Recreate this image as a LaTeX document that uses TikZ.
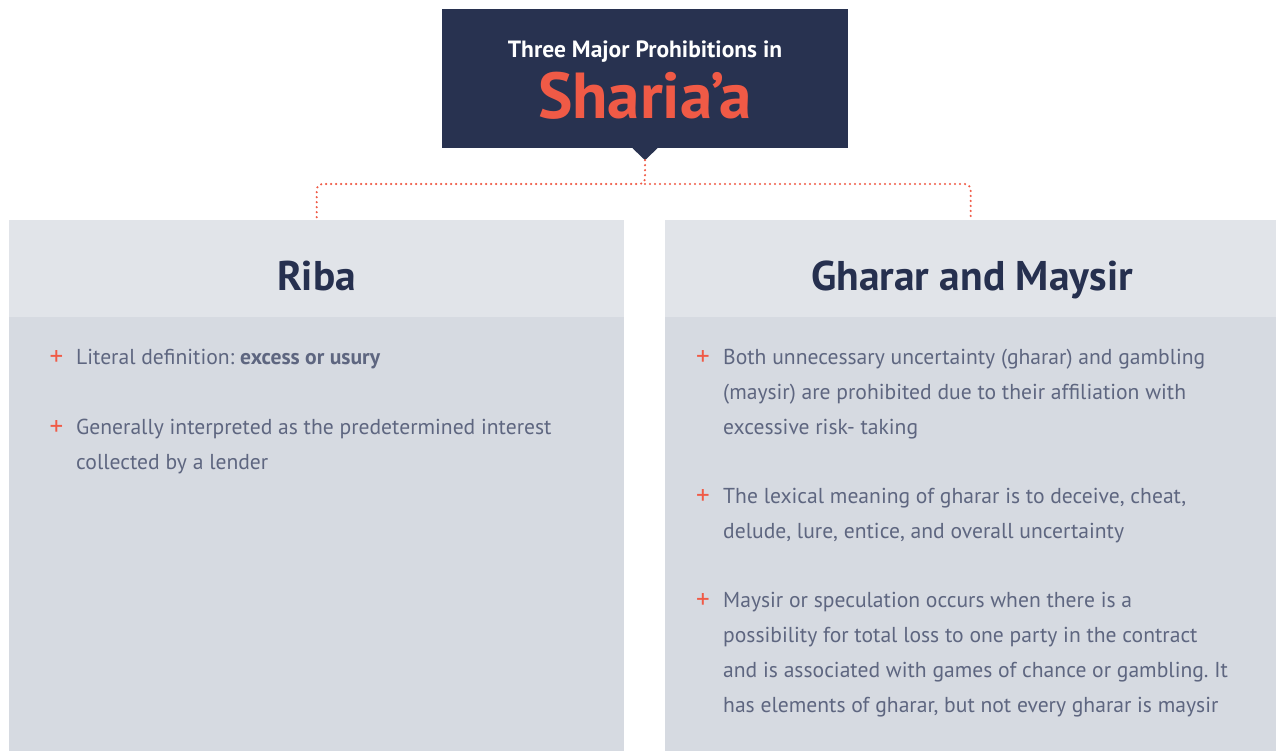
\documentclass[tikz,border=0pt]{standalone}
\usepackage{fontspec}
\setmainfont{PT Sans}
\frenchspacing
\definecolor{navy}{HTML}{283250}
\definecolor{accent}{HTML}{F05A46}
\definecolor{headbg}{HTML}{E1E4E9}
\definecolor{bodybg}{HTML}{D6DAE1}
\definecolor{bodytxt}{HTML}{5E6680}
\definecolor{headtxt}{HTML}{26304F}
\tikzset{
  titlebox/.style={fill=navy, draw=none, minimum width=406pt, minimum height=139pt, inner sep=0pt},
  headbox/.style={fill=headbg, draw=none, anchor=north west, minimum height=97pt, inner sep=0pt},
  bodybox/.style={fill=bodybg, draw=none, anchor=north west, minimum height=434pt, inner sep=0pt},
  headlabel/.style={anchor=base, inner sep=0pt, text=headtxt, font=\bfseries\fontsize{41.5}{41.5}\selectfont},
  plussign/.style={anchor=base, inner sep=0pt, text=accent, font=\fontsize{27}{35}\selectfont},
  bullettext/.style={anchor=base west, inner sep=0pt, text=bodytxt, font=\fontsize{21.6}{35}\selectfont},
  dotline/.style={draw=accent, line width=2.4pt, line cap=round, dash pattern=on 0pt off 5pt, rounded corners=6pt}
}
\begin{document}
\begin{tikzpicture}[x=1pt,y=-1pt]
\useasboundingbox (0,0) rectangle (1276,751);
\fill[white] (0,0) rectangle (1276,751);

% title
\node[titlebox] (title) at (645,78.5) {};
\node[anchor=base, inner sep=0pt, text=white, font=\bfseries\fontsize{23.5}{23.5}\selectfont] (t1) at (645,58) {Three Major Prohibitions in};
\node[anchor=base, inner sep=0pt, text=accent, font=\bfseries\fontsize{65}{65}\selectfont] (t2) at (645,119) {Sharia’a};
\coordinate (tip) at ([yshift=-12pt]title.south);
\fill[navy] ([xshift=-12.5pt]title.south) -- ([xshift=12.5pt]title.south) -- (tip) -- cycle;

% panels
\node[headbox, minimum width=615pt] (lhead) at (9,220) {};
\node[bodybox, minimum width=615pt] (lbody) at (9,317) {};
\node[headbox, minimum width=611pt] (rhead) at (665,220) {};
\node[bodybox, minimum width=611pt] (rbody) at (665,317) {};

\node[headlabel] (lhl) at (316.5,290) {Riba};
\node[headlabel] (rhl) at (972,290) {Gharar and Maysir};

% connector
\coordinate (hub) at (645,184);
\path[dotline] (tip) -- (hub) -| (lhead.north);
\path[dotline] (hub) -| (rhead.north);

% left bullets
\node[plussign] (lp1) at (56.5,365) {+};
\node[bullettext] (lb1) at (76,364) {\parbox[t]{540pt}{\raggedright Literal definition: \textbf{excess or usury}}};
\node[plussign] (lp2) at (56.5,435) {+};
\node[bullettext] (lb2) at (76,434) {\parbox[t]{540pt}{\raggedright Generally interpreted as the predetermined interest\\collected by a lender}};

% right bullets
\node[plussign] (rp1) at (703,365) {+};
\node[bullettext] (rb1) at (723,364) {\parbox[t]{545pt}{\raggedright Both unnecessary uncertainty (gharar) and gambling\\(maysir) are prohibited due to their affiliation with\\excessive risk- taking}};
\node[plussign] (rp2) at (703,504) {+};
\node[bullettext] (rb2) at (723,503) {\parbox[t]{545pt}{\raggedright The lexical meaning of gharar is to deceive, cheat,\\delude, lure, entice, and overall uncertainty}};
\node[plussign] (rp3) at (703,608) {+};
\node[bullettext] (rb3) at (723,607) {\parbox[t]{545pt}{\raggedright Maysir or speculation occurs when there is a\\possibility for total loss to one party in the contract\\and is associated with games of chance or gambling. It\\has elements of gharar, but not every gharar is maysir}};
\end{tikzpicture}
\end{document}
